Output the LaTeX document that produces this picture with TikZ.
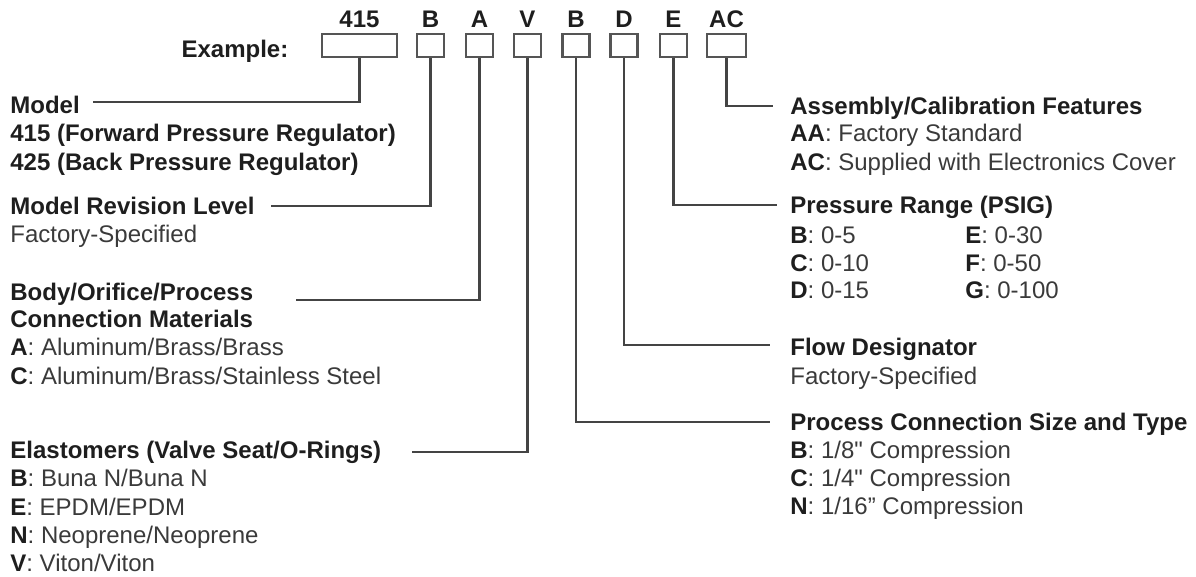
\documentclass[tikz,border=0pt]{standalone}
\usepackage{fontspec}
\setmainfont{Liberation Sans}
\usetikzlibrary{positioning}
\definecolor{inkdark}{HTML}{1E1E1E}
\definecolor{inkgray}{HTML}{3A3A3A}
\definecolor{wiregray}{HTML}{444444}
\definecolor{boxgray}{HTML}{555555}
\newcommand{\optkey}[1]{\textcolor{inkdark}{\bfseries #1}}

\begin{document}
\begin{tikzpicture}[
			x=0.5pt, y=-0.5pt,
			line node/.style={inner sep=0pt, anchor=west, text height=8.7pt, text depth=0pt, font=\fontsize{12}{14}\selectfont, text=inkgray},
			head node/.style={line node, font=\fontsize{12}{14}\selectfont\bfseries, text=inkdark},
			code box/.style={draw=boxgray, line width=1.3pt, minimum height=11.5pt, inner sep=0pt},
			code node/.style={font=\fontsize{12}{14}\selectfont\bfseries, text=inkdark, inner sep=0pt, text height=8.7pt, text depth=0pt},
			wire/.style={draw=wiregray, line width=1.1pt}
			]
			\useasboundingbox (0,0) rectangle (1196,577);
			% code boxes
			\node[code box, minimum width=37.5pt] (box415) at (359.5,45.5) {};
			\node[code node, above=2.2pt of box415] (code415) {415};
			\foreach \name/\x/\lbl in {B/430.5/B, A/479.5/A, V/527.5/V, B2/576/B, D/624/D, E/673.5/E} {
				\node[code box, minimum width=13.5pt] (box\name) at (\x,45.5) {};
				\node[code node, above=2.2pt of box\name] (code\name) {\lbl};
			}
			\node[code box, minimum width=19.5pt] (boxAC) at (726.5,45.5) {};
			\node[code node, above=2.2pt of boxAC] (codeAC) {AC};
			\node[head node, left=16pt of box415, yshift=-1.75pt] (example) {Example:};
			
			% left column
			\node[head node] (model) at (10,105) {Model};
			\node[head node] (model415) at (10,133) {415 (Forward Pressure Regulator)};
			\node[head node] (model425) at (10,162) {425 (Back Pressure Regulator)};
			\node[head node] (revision) at (10,206) {Model Revision Level};
			\node[line node] (revisionF) at (10,234) {Factory-Specified};
			\node[head node] (body) at (10,292) {Body/Orifice/Process};
			\node[head node] (body2) at (10,319) {Connection Materials};
			\node[line node] (bodyA) at (10,347) {\optkey{A}: Aluminum/Brass/Brass};
			\node[line node] (bodyC) at (10,376) {\optkey{C}: Aluminum/Brass/Stainless Steel};
			\node[head node] (elast) at (10,450) {Elastomers (Valve Seat/O-Rings)};
			\node[line node] (elastB) at (10,478) {\optkey{B}: Buna N/Buna N};
			\node[line node] (elastE) at (10,507) {\optkey{E}: EPDM/EPDM};
			\node[line node] (elastN) at (10,535) {\optkey{N}: Neoprene/Neoprene};
			\node[line node] (elastV) at (10,563) {\optkey{V}: Viton/Viton};
			
			% right column
			\node[head node] (assembly) at (790,106) {Assembly/Calibration Features};
			\node[line node] (assemblyAA) at (790,133) {\optkey{AA}: Factory Standard};
			\node[line node] (assemblyAC) at (790,162) {\optkey{AC}: Supplied with Electronics Cover};
			\node[head node] (pressure) at (790,205) {Pressure Range (PSIG)};
			\node[line node] (pressureB) at (790,235) {\optkey{B}: 0-5};
			\node[line node] (pressureC) at (790,263) {\optkey{C}: 0-10};
			\node[line node] (pressureD) at (790,290) {\optkey{D}: 0-15};
			\node[line node] (pressureE) at (965,235) {\optkey{E}: 0-30};
			\node[line node] (pressureF) at (965,263) {\optkey{F}: 0-50};
			\node[line node] (pressureG) at (965,290) {\optkey{G}: 0-100};
			\node[head node] (flow) at (790,347) {Flow Designator};
			\node[line node] (flowF) at (790,376) {Factory-Specified};
			\node[head node] (process) at (790,422) {Process Connection Size and Type};
			\node[line node] (processB) at (790,450) {\optkey{B}: 1/8\textquotedbl{} Compression};
			\node[line node] (processC) at (790,478) {\optkey{C}: 1/4\textquotedbl{} Compression};
			\node[line node] (processN) at (790,506) {\optkey{N}: 1/16" Compression};
			
			% connectors
			\draw[wire] (box415.south) |- ([xshift=6.5pt, yshift=1.5pt]model.east);
			\draw[wire] (boxB.south) |- ([xshift=8pt]revision.east);
			\draw[wire] (boxA.south) |- ([xshift=21pt, yshift=-4pt]body.east);
			\draw[wire] (boxV.south) |- ([xshift=15pt, yshift=-1pt]elast.east);
			\draw[wire] (boxB2.south) |- ([xshift=-10pt]process.west);
			\draw[wire] (boxD.south) |- ([xshift=-10pt, yshift=1pt]flow.west);
			\draw[wire] (boxE.south) |- ([xshift=-6.5pt]pressure.west);
			\draw[wire] (boxAC.south) |- ([xshift=-8.5pt]assembly.west);
		\end{tikzpicture}
\end{document}
